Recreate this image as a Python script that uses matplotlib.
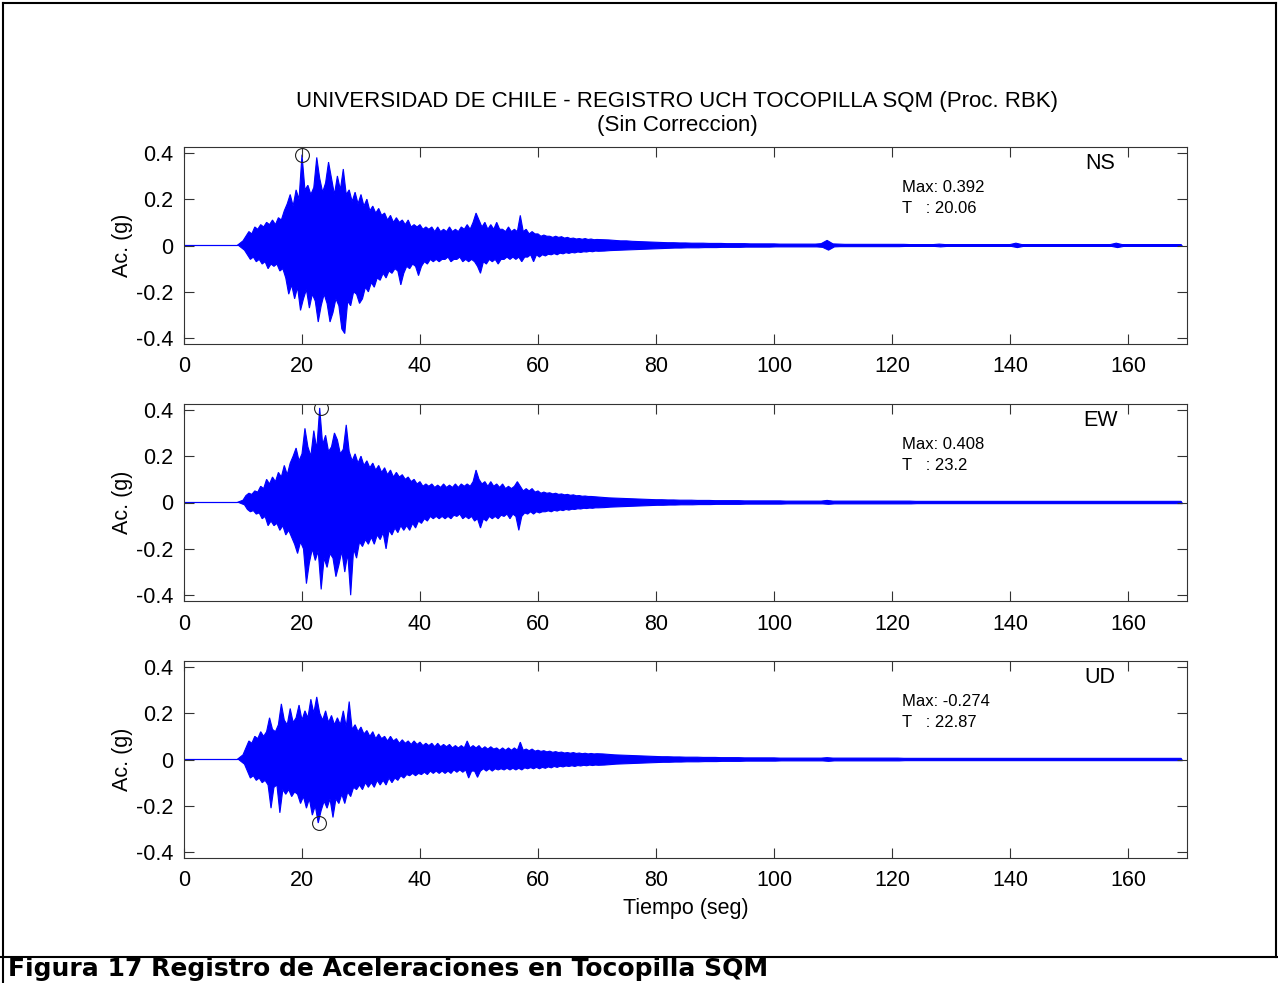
import numpy as np
import matplotlib
matplotlib.use("Agg")
import matplotlib.pyplot as plt
from matplotlib.lines import Line2D

plt.rcParams['font.family'] = ['Liberation Sans', 'DejaVu Sans']
plt.rcParams['axes.unicode_minus'] = False

# sample times of the peak envelope: 1 s before the onset, 0.5 s during
# the strong motion (10-70 s), 1 s for the coda
time = np.concatenate([np.arange(0, 10, 1.0), np.arange(10, 70, 0.5), np.arange(70, 170, 1.0)])

# positive / negative peaks of each component (g)
ns_up = [
    0, 0, 0, 0, 0, 0, 0, 0, 0, 0,
    # 10 - 40 s
    0.02, 0.04, 0.06, 0.05, 0.08, 0.07, 0.09, 0.08, 0.10, 0.09,
    0.11, 0.09, 0.12, 0.11, 0.15, 0.18, 0.22, 0.17, 0.24, 0.20,
    0.392, 0.24, 0.26, 0.22, 0.25, 0.38, 0.29, 0.23, 0.27, 0.36,
    0.29, 0.22, 0.30, 0.24, 0.33, 0.22, 0.24, 0.19, 0.23, 0.18,
    0.22, 0.17, 0.20, 0.15, 0.17, 0.14, 0.16, 0.13, 0.14, 0.11,
    0.13, 0.10, 0.12, 0.10, 0.11, 0.09, 0.11, 0.08, 0.09, 0.08,
    # 40 - 70 s
    0.09, 0.07, 0.08, 0.07, 0.08, 0.06, 0.08, 0.06, 0.07, 0.06,
    0.08, 0.06, 0.07, 0.06, 0.08, 0.07, 0.09, 0.07, 0.10, 0.14,
    0.11, 0.08, 0.10, 0.07, 0.09, 0.07, 0.10, 0.07, 0.07, 0.06,
    0.08, 0.06, 0.07, 0.06, 0.13, 0.06, 0.07, 0.05, 0.06, 0.05,
    0.050, 0.040, 0.045, 0.040, 0.040, 0.035, 0.040, 0.035, 0.038, 0.032,
    0.035, 0.030, 0.032, 0.028, 0.030, 0.027, 0.030, 0.026, 0.028, 0.025,
    # 70 - 170 s
    0.026, 0.025, 0.024, 0.022, 0.020, 0.020, 0.018, 0.017, 0.016, 0.015,
    0.014, 0.013, 0.012, 0.012, 0.011, 0.011, 0.010, 0.010, 0.010, 0.009,
    0.009, 0.009, 0.008, 0.008, 0.008, 0.008, 0.007, 0.007, 0.007, 0.007,
    0.007, 0.006, 0.006, 0.006, 0.006, 0.006, 0.006, 0.006, 0.008, 0.022,
    0.007, 0.006, 0.005, 0.005, 0.005, 0.005, 0.005, 0.005, 0.005, 0.005,
    0.005, 0.005, 0.005, 0.004, 0.004, 0.004, 0.004, 0.004, 0.006, 0.004,
    0.004, 0.004, 0.004, 0.004, 0.004, 0.004, 0.004, 0.004, 0.004, 0.004,
    0.004, 0.010, 0.004, 0.004, 0.004, 0.004, 0.004, 0.004, 0.004, 0.004,
    0.004, 0.004, 0.004, 0.004, 0.004, 0.004, 0.004, 0.004, 0.010, 0.004,
    0.004, 0.004, 0.004, 0.004, 0.004, 0.004, 0.004, 0.004, 0.004, 0.004,
]
ns_lo = [
    0, 0, 0, 0, 0, 0, 0, 0, 0, 0,
    -0.02, -0.04, -0.06, -0.05, -0.07, -0.06, -0.08, -0.07, -0.10, -0.08,
    -0.09, -0.08, -0.11, -0.10, -0.14, -0.21, -0.17, -0.23, -0.18, -0.28,
    -0.23, -0.19, -0.27, -0.21, -0.24, -0.33, -0.26, -0.21, -0.25, -0.33,
    -0.29, -0.23, -0.26, -0.36, -0.38, -0.24, -0.26, -0.20, -0.21, -0.25,
    -0.23, -0.18, -0.20, -0.16, -0.18, -0.14, -0.15, -0.12, -0.14, -0.11,
    -0.12, -0.10, -0.11, -0.17, -0.12, -0.09, -0.10, -0.08, -0.09, -0.13,
    -0.09, -0.07, -0.08, -0.06, -0.07, -0.06, -0.07, -0.06, -0.06, -0.05,
    -0.07, -0.06, -0.06, -0.05, -0.07, -0.06, -0.07, -0.06, -0.07, -0.09,
    -0.12, -0.07, -0.08, -0.06, -0.07, -0.06, -0.08, -0.06, -0.06, -0.05,
    -0.06, -0.05, -0.06, -0.05, -0.07, -0.05, -0.05, -0.04, -0.07, -0.04,
    -0.050, -0.040, -0.045, -0.038, -0.040, -0.035, -0.040, -0.033, -0.036, -0.031,
    -0.034, -0.030, -0.032, -0.028, -0.030, -0.027, -0.028, -0.025, -0.027, -0.024,
    -0.025, -0.024, -0.022, -0.021, -0.020, -0.019, -0.018, -0.017, -0.016, -0.015,
    -0.014, -0.013, -0.012, -0.011, -0.011, -0.010, -0.010, -0.010, -0.009, -0.009,
    -0.009, -0.008, -0.008, -0.008, -0.008, -0.007, -0.007, -0.007, -0.007, -0.007,
    -0.006, -0.006, -0.006, -0.006, -0.006, -0.006, -0.006, -0.006, -0.008, -0.020,
    -0.006, -0.005, -0.005, -0.005, -0.005, -0.005, -0.005, -0.005, -0.005, -0.005,
    -0.005, -0.005, -0.004, -0.004, -0.004, -0.004, -0.004, -0.004, -0.006, -0.004,
    -0.004, -0.004, -0.004, -0.004, -0.004, -0.004, -0.004, -0.004, -0.004, -0.004,
    -0.004, -0.009, -0.004, -0.004, -0.004, -0.004, -0.004, -0.004, -0.004, -0.004,
    -0.004, -0.004, -0.004, -0.004, -0.004, -0.004, -0.004, -0.004, -0.009, -0.004,
    -0.004, -0.004, -0.004, -0.004, -0.004, -0.004, -0.004, -0.004, -0.004, -0.004,
]

ew_up = [
    0, 0, 0, 0, 0, 0, 0, 0, 0, 0,
    0.01, 0.03, 0.04, 0.035, 0.05, 0.045, 0.07, 0.06, 0.10, 0.08,
    0.11, 0.09, 0.13, 0.11, 0.16, 0.12, 0.17, 0.20, 0.235, 0.18,
    0.21, 0.32, 0.24, 0.20, 0.31, 0.23, 0.408, 0.25, 0.29, 0.22,
    0.24, 0.30, 0.27, 0.21, 0.23, 0.335, 0.22, 0.18, 0.21, 0.17,
    0.20, 0.16, 0.18, 0.15, 0.17, 0.14, 0.16, 0.13, 0.15, 0.12,
    0.14, 0.11, 0.13, 0.11, 0.12, 0.10, 0.11, 0.09, 0.10, 0.08,
    0.09, 0.07, 0.08, 0.07, 0.08, 0.065, 0.075, 0.065, 0.08, 0.065,
    0.075, 0.065, 0.08, 0.065, 0.08, 0.07, 0.08, 0.07, 0.09, 0.14,
    0.10, 0.08, 0.09, 0.07, 0.09, 0.07, 0.08, 0.065, 0.08, 0.06,
    0.07, 0.06, 0.07, 0.09, 0.07, 0.05, 0.06, 0.05, 0.06, 0.045,
    0.050, 0.040, 0.045, 0.040, 0.042, 0.037, 0.040, 0.035, 0.037, 0.033,
    0.035, 0.031, 0.033, 0.029, 0.030, 0.027, 0.028, 0.026, 0.026, 0.025,
    0.024, 0.022, 0.020, 0.019, 0.018, 0.017, 0.016, 0.015, 0.014, 0.013,
    0.012, 0.012, 0.011, 0.011, 0.010, 0.010, 0.010, 0.009, 0.009, 0.009,
    0.008, 0.008, 0.008, 0.008, 0.008, 0.007, 0.007, 0.007, 0.007, 0.007,
    0.007, 0.007, 0.006, 0.006, 0.006, 0.006, 0.006, 0.006, 0.006, 0.009,
    0.006, 0.006, 0.006, 0.006, 0.006, 0.006, 0.006, 0.006, 0.006, 0.006,
    0.006, 0.006, 0.006, 0.006, 0.005, 0.005, 0.005, 0.005, 0.005, 0.005,
    0.005, 0.005, 0.005, 0.005, 0.005, 0.005, 0.005, 0.005, 0.005, 0.005,
    0.005, 0.005, 0.005, 0.005, 0.005, 0.005, 0.005, 0.005, 0.005, 0.005,
    0.005, 0.005, 0.005, 0.005, 0.005, 0.005, 0.005, 0.005, 0.005, 0.005,
    0.005, 0.005, 0.005, 0.005, 0.005, 0.005, 0.005, 0.005, 0.005, 0.005,
]
ew_lo = [
    0, 0, 0, 0, 0, 0, 0, 0, 0, 0,
    -0.01, -0.03, -0.04, -0.035, -0.05, -0.045, -0.07, -0.06, -0.10, -0.08,
    -0.10, -0.09, -0.12, -0.10, -0.14, -0.12, -0.15, -0.18, -0.22, -0.17,
    -0.20, -0.35, -0.26, -0.20, -0.25, -0.21, -0.375, -0.24, -0.28, -0.22,
    -0.24, -0.32, -0.27, -0.21, -0.30, -0.22, -0.40, -0.20, -0.24, -0.17,
    -0.19, -0.16, -0.18, -0.15, -0.18, -0.14, -0.16, -0.13, -0.20, -0.12,
    -0.14, -0.11, -0.13, -0.10, -0.12, -0.10, -0.12, -0.09, -0.11, -0.08,
    -0.09, -0.07, -0.08, -0.06, -0.07, -0.06, -0.07, -0.06, -0.07, -0.06,
    -0.07, -0.055, -0.06, -0.05, -0.07, -0.06, -0.07, -0.06, -0.08, -0.07,
    -0.11, -0.07, -0.08, -0.06, -0.07, -0.06, -0.07, -0.055, -0.06, -0.05,
    -0.07, -0.05, -0.06, -0.12, -0.06, -0.045, -0.05, -0.04, -0.05, -0.04,
    -0.045, -0.040, -0.040, -0.036, -0.040, -0.034, -0.037, -0.032, -0.035, -0.030,
    -0.033, -0.029, -0.030, -0.027, -0.028, -0.025, -0.026, -0.024, -0.025, -0.023,
    -0.023, -0.022, -0.020, -0.019, -0.018, -0.017, -0.016, -0.015, -0.014, -0.013,
    -0.012, -0.012, -0.011, -0.011, -0.010, -0.010, -0.010, -0.009, -0.009, -0.009,
    -0.008, -0.008, -0.008, -0.008, -0.008, -0.007, -0.007, -0.007, -0.007, -0.007,
    -0.007, -0.007, -0.006, -0.006, -0.006, -0.006, -0.006, -0.006, -0.006, -0.008,
    -0.006, -0.006, -0.006, -0.006, -0.006, -0.006, -0.006, -0.006, -0.006, -0.006,
    -0.006, -0.006, -0.006, -0.006, -0.005, -0.005, -0.005, -0.005, -0.005, -0.005,
    -0.005, -0.005, -0.005, -0.005, -0.005, -0.005, -0.005, -0.005, -0.005, -0.005,
    -0.005, -0.005, -0.005, -0.005, -0.005, -0.005, -0.005, -0.005, -0.005, -0.005,
    -0.005, -0.005, -0.005, -0.005, -0.005, -0.005, -0.005, -0.005, -0.005, -0.005,
    -0.005, -0.005, -0.005, -0.005, -0.005, -0.005, -0.005, -0.005, -0.005, -0.005,
]

ud_up = [
    0, 0, 0, 0, 0, 0, 0, 0, 0, 0,
    0.02, 0.05, 0.08, 0.07, 0.10, 0.09, 0.12, 0.10, 0.12, 0.18,
    0.13, 0.12, 0.15, 0.24, 0.17, 0.15, 0.22, 0.16, 0.18, 0.235,
    0.17, 0.21, 0.18, 0.26, 0.20, 0.27, 0.20, 0.17, 0.21, 0.16,
    0.19, 0.15, 0.18, 0.15, 0.21, 0.14, 0.25, 0.13, 0.15, 0.12,
    0.14, 0.11, 0.125, 0.10, 0.12, 0.09, 0.11, 0.09, 0.10, 0.08,
    0.10, 0.08, 0.09, 0.07, 0.085, 0.07, 0.08, 0.065, 0.08, 0.065,
    0.075, 0.06, 0.07, 0.06, 0.07, 0.055, 0.07, 0.055, 0.065, 0.055,
    0.065, 0.05, 0.06, 0.05, 0.06, 0.05, 0.08, 0.05, 0.06, 0.05,
    0.06, 0.045, 0.055, 0.045, 0.055, 0.045, 0.05, 0.04, 0.05, 0.04,
    0.05, 0.04, 0.05, 0.04, 0.075, 0.04, 0.045, 0.038, 0.045, 0.036,
    0.040, 0.035, 0.038, 0.033, 0.036, 0.031, 0.034, 0.030, 0.032, 0.028,
    0.030, 0.027, 0.030, 0.026, 0.028, 0.025, 0.027, 0.024, 0.026, 0.024,
    0.025, 0.024, 0.022, 0.020, 0.019, 0.018, 0.017, 0.016, 0.015, 0.014,
    0.013, 0.012, 0.012, 0.011, 0.011, 0.010, 0.010, 0.010, 0.009, 0.009,
    0.009, 0.008, 0.008, 0.008, 0.008, 0.007, 0.007, 0.007, 0.007, 0.007,
    0.007, 0.006, 0.006, 0.006, 0.006, 0.006, 0.006, 0.006, 0.006, 0.008,
    0.006, 0.006, 0.006, 0.006, 0.006, 0.006, 0.006, 0.006, 0.006, 0.006,
    0.006, 0.006, 0.005, 0.005, 0.005, 0.005, 0.005, 0.005, 0.005, 0.005,
    0.005, 0.005, 0.005, 0.005, 0.005, 0.005, 0.005, 0.005, 0.005, 0.005,
    0.005, 0.005, 0.005, 0.005, 0.005, 0.005, 0.005, 0.005, 0.005, 0.005,
    0.005, 0.005, 0.005, 0.005, 0.005, 0.005, 0.005, 0.005, 0.005, 0.005,
    0.005, 0.005, 0.005, 0.005, 0.005, 0.005, 0.005, 0.005, 0.005, 0.005,
]
ud_lo = [
    0, 0, 0, 0, 0, 0, 0, 0, 0, 0,
    -0.02, -0.05, -0.08, -0.07, -0.09, -0.08, -0.10, -0.09, -0.11, -0.21,
    -0.12, -0.11, -0.23, -0.13, -0.15, -0.13, -0.16, -0.14, -0.15, -0.19,
    -0.16, -0.21, -0.17, -0.24, -0.20, -0.274, -0.22, -0.18, -0.21, -0.17,
    -0.25, -0.17, -0.19, -0.15, -0.19, -0.14, -0.16, -0.12, -0.13, -0.11,
    -0.13, -0.10, -0.12, -0.10, -0.12, -0.09, -0.11, -0.09, -0.11, -0.08,
    -0.10, -0.08, -0.09, -0.07, -0.08, -0.065, -0.07, -0.06, -0.07, -0.06,
    -0.065, -0.055, -0.065, -0.05, -0.06, -0.05, -0.06, -0.05, -0.06, -0.05,
    -0.06, -0.045, -0.055, -0.045, -0.055, -0.045, -0.08, -0.05, -0.05, -0.077,
    -0.05, -0.04, -0.05, -0.04, -0.05, -0.04, -0.045, -0.04, -0.045, -0.038,
    -0.045, -0.038, -0.045, -0.038, -0.045, -0.036, -0.04, -0.035, -0.04, -0.034,
    -0.040, -0.034, -0.038, -0.032, -0.036, -0.030, -0.034, -0.029, -0.032, -0.028,
    -0.030, -0.027, -0.030, -0.026, -0.028, -0.025, -0.027, -0.024, -0.026, -0.024,
    -0.025, -0.024, -0.022, -0.020, -0.019, -0.018, -0.017, -0.016, -0.015, -0.014,
    -0.013, -0.012, -0.012, -0.011, -0.011, -0.010, -0.010, -0.010, -0.009, -0.009,
    -0.009, -0.008, -0.008, -0.008, -0.008, -0.007, -0.007, -0.007, -0.007, -0.007,
    -0.007, -0.006, -0.006, -0.006, -0.006, -0.006, -0.006, -0.006, -0.006, -0.008,
    -0.006, -0.006, -0.006, -0.006, -0.006, -0.006, -0.006, -0.006, -0.006, -0.006,
    -0.006, -0.006, -0.005, -0.005, -0.005, -0.005, -0.005, -0.005, -0.005, -0.005,
    -0.005, -0.005, -0.005, -0.005, -0.005, -0.005, -0.005, -0.005, -0.005, -0.005,
    -0.005, -0.005, -0.005, -0.005, -0.005, -0.005, -0.005, -0.005, -0.005, -0.005,
    -0.005, -0.005, -0.005, -0.005, -0.005, -0.005, -0.005, -0.005, -0.005, -0.005,
    -0.005, -0.005, -0.005, -0.005, -0.005, -0.005, -0.005, -0.005, -0.005, -0.005,
]

components = ["NS", "EW", "UD"]
peak_acc = [0.392, 0.408, -0.274]
peak_time = [20.06, 23.2, 22.87]
x_ticks = [0, 20, 40, 60, 80, 100, 120, 140, 160]
y_ticks = [-0.4, -0.2, 0, 0.2, 0.4]
y_ticklabels = ["-0.4", "-0.2", "0", "0.2", "0.4"]


def envelope(up, lo):
    # closed outline: positive peaks left to right, negative peaks back
    xs = np.concatenate([time, (time + 0.25)[::-1]])
    ys = np.concatenate([up, lo[::-1]])
    return xs, ys


W, H = 1278, 983
fig = plt.figure(figsize=(W / 100, H / 100), dpi=100)

panels = [(ns_up, ns_lo, 147), (ew_up, ew_lo, 404), (ud_up, ud_lo, 661)]
edge = '#333333'
fs = 15.5
for k, (up, lo, top) in enumerate(panels):
    ax = fig.add_axes([184 / W, 1 - (top + 197) / H, 1003 / W, 197 / H])
    xs, ys = envelope(up, lo)
    ax.fill(xs, ys, facecolor='#0000ff', edgecolor='#0000ff', lw=0.8)
    ax.plot([peak_time[k]], [peak_acc[k]], 'o', ms=10, mfc='none', mec='#222222', mew=0.8)

    ax.set_xlim(0, 170)
    ax.set_ylim(-0.425, 0.425)
    ax.set_xticks(x_ticks)
    ax.set_yticks(y_ticks)
    ax.set_yticklabels(y_ticklabels)
    ax.tick_params(direction='in', top=True, right=True, length=7, width=0.8,
                   color=edge, labelsize=fs)
    ax.tick_params(axis='x', pad=9)
    ax.tick_params(axis='y', pad=8)
    for s in ax.spines.values():
        s.set_color(edge)
        s.set_linewidth(0.8)
    ax.set_ylabel('Ac. (g)', fontsize=fs, labelpad=2)

    ax.text(155.3, 0.355, components[k], ha='center', va='center', fontsize=fs)
    ax.text(121.7, 0.249, f"Max: {peak_acc[k]}", ha='left', va='center', fontsize=12)
    ax.text(121.7, 0.158, f"T   : {peak_time[k]}", ha='left', va='center', fontsize=12)
    if k == 2:
        ax.set_xlabel('Tiempo (seg)', fontsize=fs, labelpad=5)

fig.text(677 / W, 1 - 101 / H, 'UNIVERSIDAD DE CHILE - REGISTRO UCH TOCOPILLA SQM (Proc. RBK)',
         ha='center', va='center', fontsize=16)
fig.text(677 / W, 1 - 125 / H, '(Sin Correccion)', ha='center', va='center', fontsize=16)

# page frame around the figure and caption below it
for xs, ys in [([3, 1276], [3, 3]), ([3, 3], [3, 983]), ([1276, 1276], [3, 957]), ([0, 1278], [957, 957])]:
    fig.add_artist(Line2D([v / W for v in xs], [1 - v / H for v in ys],
                          transform=fig.transFigure, color='black', lw=1.5))

fig.text(8 / W, 1 - 969 / H, 'Figura 17 Registro de Aceleraciones en Tocopilla SQM',
         ha='left', va='center', fontsize=18, fontweight='bold', family='DejaVu Sans')

fig.savefig('out.png', dpi=100)
